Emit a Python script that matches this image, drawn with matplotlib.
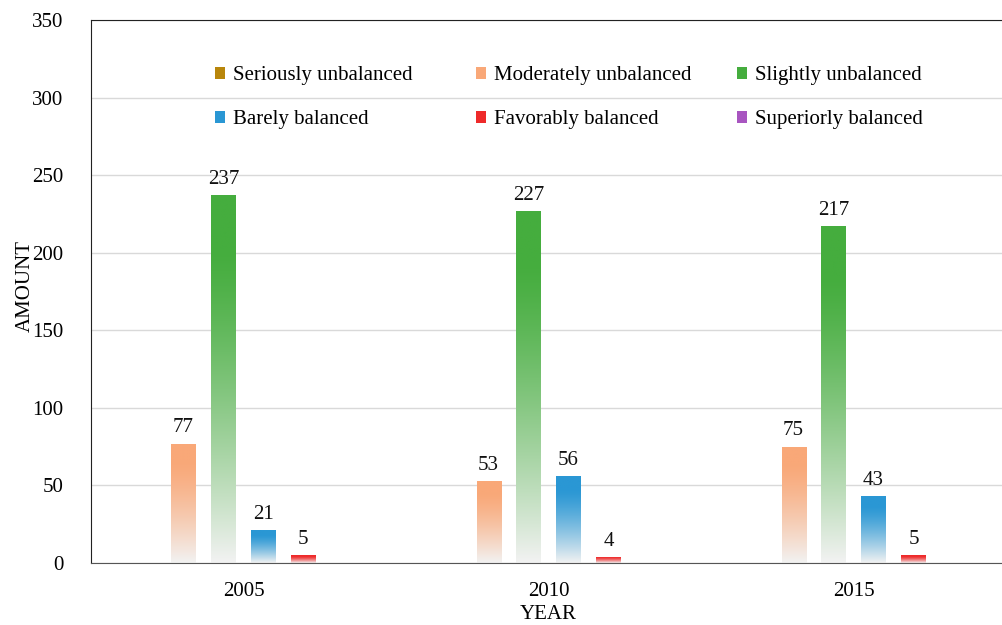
import numpy as np
import matplotlib
matplotlib.use("Agg")
import matplotlib.pyplot as plt
from matplotlib.colors import to_rgb
from matplotlib.patches import Patch

plt.rcParams['font.family'] = ['Liberation Serif', 'DejaVu Serif']

years = ['2005', '2010', '2015']
categories = ['Seriously unbalanced', 'Moderately unbalanced', 'Slightly unbalanced',
              'Barely balanced', 'Favorably balanced', 'Superiorly balanced']
seriously = [0, 0, 0]
moderately = [77, 53, 75]
slightly = [237, 227, 217]
barely = [21, 56, 43]
favorably = [5, 4, 5]
superiorly = [0, 0, 0]
values = [seriously, moderately, slightly, barely, favorably, superiorly]
colors = ['#b8860b', '#f9a878', '#45ad3e', '#2a97d4', '#ee2a2a', '#a855c0']

FS = 15


def gradient_image(color, n=200):
    # colour at the top, fading towards a pale grey at the base
    c = np.array(to_rgb(color))
    base = np.array([0.95, 0.95, 0.95])
    t = np.linspace(0, 1, n)
    f = np.clip((t - 0.15) / 0.85, 0, 1) ** 1.3
    rows = c[None, :] * (1 - f[:, None]) + base[None, :] * f[:, None]
    return rows[:, None, :]


fig = plt.figure(figsize=(10.03, 6.25), dpi=100)
ax = fig.add_axes([0.0907, 0.0992, 0.9123, 0.8688])

x = np.arange(len(years))
step = 0.131
width = 0.079
offsets = (np.arange(len(categories)) - 2.5) * step

for i, (vals, col) in enumerate(zip(values, colors)):
    bars = ax.bar(x + offsets[i], vals, width, color='none', edgecolor='none', zorder=2)
    for bar, v in zip(bars, vals):
        if v <= 0:
            continue
        x0 = bar.get_x()
        im = ax.imshow(gradient_image(col), extent=[x0, x0 + bar.get_width(), 0, v],
                       aspect='auto', zorder=2, interpolation='bilinear')
        im.set_clip_path(bar)
        ax.text(x0 + bar.get_width() / 2, v + 4, str(v), ha='center', va='bottom',
                fontsize=FS, color='#111111')

ax.set_xlim(-0.5, 2.5)
ax.set_ylim(0, 350)
ax.set_yticks(np.arange(0, 351, 50))
ax.set_xticks(x)
ax.set_xticklabels(years)
ax.tick_params(axis='both', length=0, labelsize=FS)
ax.tick_params(axis='y', pad=20)
ax.tick_params(axis='x', pad=14)
ax.yaxis.grid(True, color='#d9d9d9', linewidth=1)
ax.set_axisbelow(True)
for s in ['left', 'top']:
    ax.spines[s].set_color('#222222')
ax.spines['bottom'].set_color('#555555')
ax.spines['right'].set_visible(False)
ax.set_xlabel('YEAR', fontsize=FS, va='center')
ax.set_ylabel('AMOUNT', fontsize=FS, va='center')
ax.xaxis.set_label_coords(0.5, -0.094)
ax.yaxis.set_label_coords(-0.072, 0.51)

# legend laid out as three columns of two rows
col_x = [215, 476, 737]
for k in range(3):
    idx = [k, k + 3]
    handles = [Patch(facecolor=colors[j], edgecolor='none') for j in idx]
    leg = ax.legend(handles, [categories[j] for j in idx], loc='upper left',
                    bbox_to_anchor=(col_x[k] / 1003, 1 - 66 / 625),
                    bbox_transform=fig.transFigure, frameon=False, fontsize=FS,
                    handlelength=0.5, handleheight=0.5, handletextpad=0.35,
                    labelspacing=1.2, borderpad=0, borderaxespad=0)
    if k < 2:
        ax.add_artist(leg)

fig.savefig('out.png', dpi=100)
